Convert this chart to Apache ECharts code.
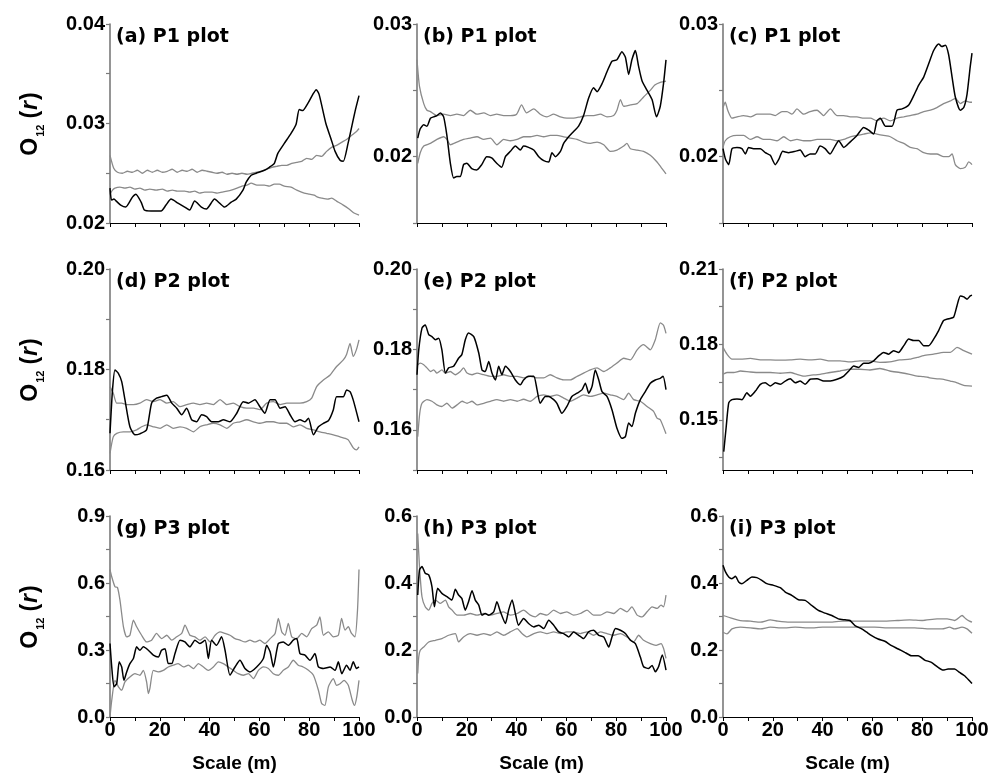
<!DOCTYPE html>
<html><head><meta charset="utf-8">
<script src="https://cdn.jsdelivr.net/npm/echarts@6/dist/echarts.min.js"></script>
<style>html,body{margin:0;padding:0;background:#fff}#c{width:992px;height:778px}</style>
</head><body><div id="c"></div>
<script>
// ---------- DATA ----------
const panelTitles = ['(a) P1 plot','(b) P1 plot','(c) P1 plot','(d) P2 plot','(e) P2 plot','(f) P2 plot','(g) P3 plot','(h) P3 plot','(i) P3 plot'];
const xTickValues = [0,10,20,30,40,50,60,70,80,90,100];
const xLabelValues = [0,20,40,60,80,100];
const xName = 'Scale (m)';
const yMin = [0.02,0.015,0.015,0.16,0.15,0.13,0,0,0];
const yMax = [0.04,0.03,0.03,0.20,0.20,0.21,0.9,0.6,0.6];
const yTickValues = [
  [0.02,0.025,0.03,0.035,0.04],[0.015,0.02,0.025,0.03],[0.015,0.02,0.025,0.03],
  [0.16,0.17,0.18,0.19,0.20],[0.15,0.16,0.17,0.18,0.19,0.20],[0.135,0.15,0.165,0.18,0.195,0.21],
  [0,0.15,0.3,0.45,0.6,0.75,0.9],[0,0.1,0.2,0.3,0.4,0.5,0.6],[0,0.1,0.2,0.3,0.4,0.5,0.6]];
const yLabelValues = [
  [0.02,0.03,0.04],[0.02,0.03],[0.02,0.03],
  [0.16,0.18,0.20],[0.16,0.18,0.20],[0.15,0.18,0.21],
  [0,0.3,0.6,0.9],[0,0.2,0.4,0.6],[0,0.2,0.4,0.6]];
const yDecimals = [2,2,2,2,2,2,1,1,1];

// (a)
const aObs = [[0,0.0235],[0.6,0.0223],[1.6,0.0224],[2.5,0.0222],[4.3,0.0218],[6.3,0.0216],[9,0.0226],[10.4,0.0229],[12.5,0.0221],[13.8,0.0213],[16.5,0.0212],[20.5,0.0212],[22.5,0.0218],[24.5,0.0224],[27.3,0.0220],[30,0.0216],[32,0.0213],[34,0.0222],[36.7,0.0216],[38.7,0.0214],[42,0.0224],[44,0.0220],[46,0.0216],[48.7,0.0221],[50.7,0.0224],[53.4,0.0233],[54.7,0.0241],[56.7,0.0248],[58.7,0.0250],[62,0.0253],[64,0.0256],[66,0.0260],[67.4,0.0270],[70,0.0280],[72.7,0.0290],[74.7,0.0299],[76,0.0314],[77.4,0.0313],[79.4,0.0320],[81.4,0.0329],[82.8,0.0334],[84,0.0329],[86.7,0.0300],[88.7,0.0285],[90.4,0.0272],[92.4,0.0263],[93.7,0.0262],[95.6,0.0280],[98.4,0.0312],[100,0.0328]];
const aHi = [[0,0.0268],[1.5,0.0255],[3,0.0251],[5,0.0250],[7,0.0252],[9,0.0251],[11,0.0253],[13,0.0250],[15,0.0253],[17,0.0251],[19,0.0253],[21,0.0251],[23,0.0252],[25,0.0254],[27,0.0251],[29,0.0253],[31,0.0252],[33,0.0254],[35,0.0251],[37,0.0253],[39,0.0252],[41,0.0251],[43,0.0250],[45,0.0251],[47,0.0249],[49,0.0250],[51,0.0249],[53,0.0250],[55,0.0249],[57,0.0250],[59,0.0251],[61,0.0252],[63,0.0254],[65,0.0256],[67,0.0257],[69,0.0258],[71,0.0258],[73,0.0260],[75,0.0261],[77,0.0262],[79,0.0265],[81,0.0264],[83,0.0268],[85,0.0267],[87,0.0272],[89,0.0276],[91,0.0278],[93,0.0281],[95,0.0284],[97,0.0288],[99,0.0292],[100,0.0295]];
const aLo = [[0,0.0229],[1,0.0233],[2,0.0235],[4,0.0236],[6,0.0235],[8,0.0236],[10,0.0234],[12,0.0235],[14,0.0233],[16,0.0234],[18.5,0.0233],[21,0.0234],[23,0.0232],[25,0.0233],[27,0.0232],[30,0.0232],[32,0.0231],[34,0.0232],[36,0.0230],[38,0.0231],[41,0.0231],[43,0.0230],[45,0.0231],[47,0.0232],[48.7,0.0233],[51,0.0235],[53,0.0237],[55,0.0238],[56.7,0.0240],[59,0.0238],[62,0.0238],[64,0.0237],[66,0.0239],[68,0.0239],[70,0.0237],[72.7,0.0236],[75,0.0233],[78,0.0230],[80,0.0229],[82,0.0228],[83.4,0.0226],[85,0.0225],[87.5,0.0224],[89,0.0225],[91,0.0222],[93.7,0.0218],[96,0.0214],[98,0.0210],[100,0.0208]];
// (b)
const bObs = [[0.3,0.0214],[1.3,0.0221],[2.7,0.0224],[4,0.0223],[5.4,0.0229],[6.7,0.0230],[8,0.0231],[9.4,0.0233],[10.7,0.0230],[12,0.0216],[13.4,0.0195],[14.7,0.0184],[16,0.0185],[17.4,0.0185],[18.7,0.0194],[20,0.0195],[22,0.0191],[24,0.0190],[26,0.0194],[28,0.0200],[30,0.0199],[32,0.0195],[34,0.0192],[35.5,0.0200],[37.5,0.0204],[39.5,0.0208],[41.5,0.0205],[42.8,0.0208],[44.8,0.0207],[46.9,0.0205],[48.9,0.0200],[50.9,0.0197],[52.9,0.0196],[54.2,0.0203],[55.6,0.0200],[57.6,0.0204],[58.9,0.0210],[60.9,0.0215],[62.9,0.0219],[64.9,0.0223],[66.9,0.0231],[68.9,0.0244],[70.9,0.0252],[72.3,0.0249],[74.3,0.0255],[76.3,0.0264],[78.3,0.0272],[80.3,0.0273],[82.3,0.0279],[83.7,0.0275],[85,0.0262],[86.3,0.0273],[87.7,0.0280],[89,0.0268],[90.4,0.0257],[92.4,0.0250],[94.4,0.0243],[96.2,0.0230],[97.7,0.0238],[99,0.0255],[100,0.0273]];
const bHi = [[0,0.0273],[1,0.0253],[2.7,0.0240],[4,0.0235],[5.4,0.0234],[8,0.0231],[10.7,0.0232],[13.4,0.0231],[16,0.0232],[18.7,0.0231],[21.4,0.0235],[24,0.0232],[26.8,0.0233],[29.5,0.0231],[32,0.0232],[34.8,0.0231],[37.5,0.0231],[40,0.0232],[42,0.0239],[44,0.0233],[46.9,0.0236],[49.5,0.0232],[52.2,0.0230],[54.9,0.0232],[57.6,0.0230],[60.2,0.0229],[62.9,0.0229],[65.6,0.0230],[68.3,0.0231],[71,0.0231],[73.6,0.0232],[76.3,0.0230],[79,0.0231],[80.3,0.0235],[81.7,0.0243],[83,0.0238],[85.7,0.0239],[88.4,0.0240],[91,0.0245],[93.7,0.0250],[95.5,0.0254],[97.7,0.0256],[100,0.0257]];
const bLo = [[0.3,0.0195],[1.3,0.0203],[2.7,0.0208],[5.4,0.0210],[8,0.0213],[10.7,0.0215],[12,0.0213],[13.4,0.0209],[16,0.0211],[18.7,0.0213],[21.4,0.0214],[24.1,0.0215],[26.8,0.0213],[29.5,0.0214],[32.1,0.0209],[34.8,0.0213],[37.5,0.0212],[40.2,0.0213],[42.8,0.0215],[45.5,0.0215],[48.2,0.0216],[50.9,0.0215],[53.5,0.0216],[56.2,0.0216],[58.9,0.0215],[61.6,0.0214],[64.3,0.0213],[66.9,0.0211],[69.6,0.0210],[72.3,0.0211],[75,0.0209],[77.6,0.0204],[80.3,0.0205],[83,0.0208],[84.3,0.0210],[85.7,0.0206],[88.4,0.0205],[91,0.0204],[93.7,0.0201],[96.4,0.0196],[98,0.0192],[100,0.0187]];
// (c)
const cObs = [[0,0.0206],[1,0.0198],[2.3,0.0194],[3.6,0.0206],[5.6,0.0207],[7.6,0.0206],[9,0.0202],[10.3,0.0207],[12.3,0.0206],[15,0.0206],[17,0.0203],[19,0.0201],[21,0.0194],[22.4,0.0198],[24,0.0204],[26.4,0.0203],[29,0.0204],[31,0.0205],[33,0.0200],[35,0.0202],[37,0.0202],[39,0.0208],[41,0.0206],[43,0.0202],[45,0.0208],[46.5,0.0212],[48.5,0.0207],[51,0.0211],[53.8,0.0216],[56.5,0.0222],[58.5,0.0220],[60.5,0.0217],[61.8,0.0227],[63.2,0.0229],[65.2,0.0223],[67.9,0.0223],[69.9,0.0235],[71.9,0.0236],[74.6,0.0239],[76.6,0.0246],[78.6,0.0254],[80.6,0.0260],[82.6,0.0270],[84.6,0.0280],[86.6,0.0285],[87.9,0.0283],[89.3,0.0284],[90.6,0.0277],[92,0.0260],[93.3,0.0245],[95.3,0.0235],[96.7,0.0237],[98,0.0247],[99.3,0.0268],[100,0.0278]];
const cHi = [[0,0.0237],[0.9,0.0241],[1.9,0.0235],[3.6,0.0229],[5.6,0.0230],[8.3,0.0231],[11,0.0230],[13.7,0.0232],[16.3,0.0232],[19,0.0232],[21,0.0231],[23.7,0.0234],[25.7,0.0234],[27.7,0.0232],[29.7,0.0236],[32.4,0.0232],[35,0.0234],[37.8,0.0235],[40.4,0.0231],[43.1,0.0236],[45.8,0.0231],[48.5,0.0231],[51.1,0.0230],[53.8,0.0230],[56.5,0.0229],[59.2,0.0229],[61.8,0.0227],[64.5,0.0229],[67.2,0.0227],[69.9,0.0229],[72.6,0.0230],[75.2,0.0231],[77.9,0.0232],[80.6,0.0234],[83.3,0.0235],[85.9,0.0237],[88.6,0.0240],[91.3,0.0242],[93.3,0.0244],[95.3,0.0240],[97.3,0.0242],[99.3,0.0241],[100,0.0241]];
const cLo = [[0,0.0207],[0.9,0.0212],[2.9,0.0215],[5.6,0.0216],[8.3,0.0216],[11,0.0213],[13.7,0.0215],[16.3,0.0213],[19,0.0213],[21.7,0.0212],[24.4,0.0215],[27.1,0.0212],[29.7,0.0213],[32.4,0.0212],[35,0.0212],[37.8,0.0213],[40.4,0.0213],[43.1,0.0213],[45.8,0.0212],[48.5,0.0213],[51.1,0.0215],[53.8,0.0216],[56.5,0.0217],[59.2,0.0218],[61.8,0.0217],[64.5,0.0216],[67.2,0.0215],[69.9,0.0212],[72.6,0.0210],[75.2,0.0207],[77.9,0.0206],[80.6,0.0203],[83.3,0.0202],[85.9,0.0202],[88.6,0.0200],[90.6,0.0200],[92,0.0202],[93.3,0.0194],[95.3,0.0191],[97.3,0.0192],[98.7,0.0196],[100,0.0194]];
// (d)
const dObs = [[0,0.1673],[1,0.1759],[2,0.1799],[3.3,0.1793],[4.7,0.1776],[6,0.1740],[8,0.1686],[10,0.1670],[12,0.1672],[14.7,0.1680],[16.7,0.1733],[18.7,0.1743],[20.7,0.1746],[22.8,0.1749],[24.8,0.1733],[26.8,0.1723],[28.8,0.1710],[30.8,0.1723],[32.8,0.1700],[34.8,0.1696],[36.8,0.1710],[38.8,0.1706],[40.8,0.1696],[43.5,0.1696],[45.5,0.1700],[48.2,0.1696],[50.9,0.1713],[53.5,0.1736],[55.6,0.1733],[58.2,0.1740],[60.2,0.1726],[62.2,0.1713],[64.3,0.1740],[66.3,0.1740],[68.3,0.1723],[70.3,0.1726],[72.3,0.1710],[74.3,0.1696],[76.3,0.1700],[78.3,0.1696],[79.7,0.1703],[81.7,0.1670],[83.7,0.1686],[85.7,0.1693],[87.7,0.1698],[89.7,0.1720],[91,0.1746],[93.7,0.1746],[95,0.1759],[96.4,0.1756],[97.7,0.1739],[100,0.1696]];
const dHi = [[0,0.1766],[1.3,0.1753],[2.7,0.1733],[4.7,0.1733],[6.7,0.1730],[9.4,0.1730],[12,0.1733],[14.7,0.1740],[17.4,0.1736],[20.1,0.1740],[22.8,0.1733],[25.4,0.1736],[28.1,0.1726],[30.8,0.1730],[33.5,0.1733],[36.1,0.1730],[38.8,0.1733],[41.5,0.1730],[44.2,0.1740],[46.9,0.1730],[49.5,0.1733],[52.2,0.1726],[54.9,0.1723],[57.6,0.1723],[60.2,0.1720],[62.9,0.1733],[65.6,0.1736],[68.3,0.1730],[71,0.1733],[73.6,0.1733],[76.3,0.1733],[79,0.1736],[81,0.1743],[83,0.1766],[85.7,0.1779],[88.4,0.1789],[91,0.1806],[93.7,0.1819],[95,0.1830],[96.4,0.1852],[97.7,0.1826],[99,0.1840],[100,0.1859]];
const dLo = [[0,0.1633],[1.3,0.1666],[2.7,0.1673],[5.4,0.1676],[8,0.1676],[10.7,0.1680],[12.7,0.1686],[14.7,0.1690],[17.4,0.1686],[20.1,0.1683],[22.8,0.1690],[25.4,0.1683],[28.1,0.1686],[30.8,0.1683],[33.5,0.1676],[36.1,0.1686],[38.8,0.1690],[41.5,0.1693],[44.2,0.1690],[46.9,0.1683],[49.5,0.1693],[52.2,0.1696],[54.9,0.1700],[57.6,0.1696],[60.2,0.1693],[62.9,0.1696],[65.6,0.1696],[68.3,0.1693],[71,0.1693],[73.6,0.1686],[76.3,0.1690],[79,0.1683],[81.7,0.1680],[84.3,0.1676],[87,0.1673],[89.7,0.1670],[92.4,0.1666],[94.5,0.1663],[95.7,0.1660],[97.7,0.1644],[99,0.1640],[100,0.1646]];
// (e)
const eObs = [[0,0.1737],[0.7,0.1799],[2,0.1853],[3.3,0.1861],[4.7,0.1837],[6,0.1832],[7.4,0.1824],[8.7,0.1828],[10,0.1799],[11.4,0.1741],[12.7,0.1754],[14.7,0.1758],[16.7,0.1778],[18,0.1787],[19.4,0.1824],[20.7,0.1841],[22.8,0.1832],[24.8,0.1791],[26.1,0.1749],[27.4,0.1745],[28.8,0.1770],[30.1,0.1741],[31.5,0.1724],[32.8,0.1758],[34.1,0.1737],[35.5,0.1758],[37.5,0.1745],[39.5,0.1724],[41.5,0.1712],[42.8,0.1724],[44.8,0.1733],[46.9,0.1733],[48.2,0.1700],[49.5,0.1666],[51.5,0.1683],[52.9,0.1683],[54.9,0.1675],[56.2,0.1666],[58.2,0.1641],[60.2,0.1658],[62.2,0.1683],[64.3,0.1691],[66.3,0.1700],[67.6,0.1716],[69,0.1691],[70.3,0.1708],[71.6,0.1749],[73,0.1724],[74.3,0.1695],[76.3,0.1683],[78.3,0.1650],[80.3,0.1604],[82.3,0.1579],[83.7,0.1583],[85,0.1617],[86.3,0.1608],[87.7,0.1641],[89.7,0.1675],[91.7,0.1695],[93.7,0.1716],[95.7,0.1724],[97.7,0.1728],[98.8,0.1733],[100,0.1700]];
const eHi = [[0.3,0.1762],[1.3,0.1766],[2.7,0.1762],[4,0.1754],[5.4,0.1745],[6.7,0.1749],[8,0.1741],[10,0.1749],[11.4,0.1741],[13.4,0.1745],[15.4,0.1737],[17.4,0.1745],[18.7,0.1754],[20.1,0.1741],[22.1,0.1737],[24.1,0.1741],[26.8,0.1737],[29.5,0.1733],[32.1,0.1733],[34.8,0.1737],[37.5,0.1733],[40.2,0.1733],[42.8,0.1729],[45.5,0.1733],[48.2,0.1729],[50.9,0.1729],[53.5,0.1737],[56.2,0.1729],[58.9,0.1724],[61.6,0.1724],[64.3,0.1733],[66.9,0.1741],[69.6,0.1749],[72.3,0.1754],[75,0.1745],[77.6,0.1754],[80.3,0.1766],[83,0.1778],[85.7,0.1774],[88.4,0.1799],[91,0.1812],[93.7,0.1799],[95.7,0.1824],[97.7,0.1866],[99,0.1860],[100,0.1840]];
const eLo = [[0.3,0.1583],[1.1,0.1641],[2,0.1666],[4,0.1675],[6,0.1671],[8,0.1662],[10,0.1658],[12,0.1666],[14.1,0.1654],[16.1,0.1662],[18.1,0.1671],[20.1,0.1666],[22.1,0.1671],[24.1,0.1662],[26.8,0.1666],[29.5,0.1671],[32.1,0.1675],[34.8,0.1671],[37.5,0.1675],[40.2,0.1671],[42.8,0.1676],[45.5,0.1671],[48.2,0.1683],[50.9,0.1687],[53.5,0.1683],[56.2,0.1687],[58.9,0.1679],[61.6,0.1671],[64.3,0.1679],[66.9,0.1687],[69.6,0.1683],[72.3,0.1687],[75,0.1691],[77.6,0.1687],[80.3,0.1683],[83,0.1675],[85,0.1691],[87,0.1675],[89.7,0.1671],[92.4,0.1658],[95,0.1646],[96.4,0.1629],[97.7,0.1625],[100,0.1590]];
// (f)
const fObs = [[0.3,0.1373],[1.3,0.1473],[2.3,0.1567],[3.6,0.1580],[5.6,0.1583],[7.6,0.1580],[9.6,0.1607],[11,0.1594],[13,0.1614],[15,0.1641],[17,0.1647],[19,0.1634],[21,0.1647],[23,0.1641],[25,0.1654],[27,0.1663],[29,0.1647],[31,0.1654],[33,0.1641],[35,0.1661],[37.8,0.1663],[40.4,0.1654],[43.1,0.1654],[45.8,0.1661],[48.5,0.1674],[50.5,0.1694],[52.5,0.1714],[54.5,0.1708],[56.5,0.1725],[58.5,0.1725],[60.5,0.1734],[62.5,0.1754],[64.5,0.1768],[66.5,0.1761],[68.5,0.1775],[70.5,0.1768],[72.6,0.1795],[74.6,0.1821],[76.6,0.1815],[78.6,0.1815],[80.6,0.1795],[82.6,0.1795],[84.6,0.1821],[86.6,0.1855],[88.6,0.1895],[90.6,0.1902],[92.6,0.1908],[94,0.1955],[95.3,0.1993],[96.7,0.1989],[98,0.1980],[99.3,0.1993],[100,0.1996]];
const fHi = [[0,0.1788],[1.6,0.1761],[3.6,0.1741],[7,0.1741],[11,0.1744],[15,0.1738],[19,0.1738],[23,0.1737],[27,0.1738],[31,0.1741],[35,0.1738],[39,0.1741],[43,0.1734],[47,0.1734],[51,0.1730],[55,0.1734],[59,0.1734],[63,0.1728],[67,0.1730],[71,0.1738],[75,0.1741],[78,0.1748],[80.6,0.1755],[84.6,0.1761],[88.6,0.1768],[91.3,0.1768],[94,0.1788],[96.7,0.1775],[100,0.1761]];
const fLo = [[0,0.1681],[1.6,0.1688],[4.3,0.1688],[7,0.1694],[11,0.1690],[15,0.1688],[19,0.1688],[23,0.1685],[27,0.1688],[29.7,0.1681],[32.4,0.1674],[35,0.1677],[39,0.1681],[43,0.1688],[47,0.1694],[51,0.1701],[55,0.1701],[59,0.1698],[63,0.1704],[64.5,0.1701],[67,0.1694],[71,0.1688],[75,0.1681],[78,0.1674],[80.6,0.1672],[83,0.1667],[86,0.1663],[88.6,0.1661],[91.3,0.1654],[94,0.1647],[96.7,0.1637],[100,0.1634]];
// (g)
const gObs = [[0,0.329],[0.7,0.224],[1.6,0.135],[2.7,0.150],[3.7,0.247],[4.7,0.224],[5.6,0.164],[6.7,0.202],[8,0.239],[9.4,0.262],[10.7,0.314],[12,0.299],[13.4,0.314],[15.4,0.299],[17.4,0.277],[19.4,0.269],[20.7,0.299],[22.1,0.306],[23.4,0.239],[24.8,0.239],[26.1,0.284],[28.1,0.344],[30.1,0.336],[32.1,0.314],[34.1,0.344],[36.1,0.329],[38.2,0.344],[39.5,0.262],[40.8,0.344],[42.8,0.321],[44.8,0.359],[46.2,0.299],[48.2,0.187],[50.2,0.224],[52.2,0.254],[54.2,0.217],[56.2,0.202],[58.9,0.224],[61.6,0.262],[62.9,0.321],[64.3,0.292],[65.6,0.224],[67.6,0.329],[69.6,0.336],[71.6,0.321],[73.6,0.344],[75,0.351],[76.3,0.284],[78.3,0.277],[80.3,0.254],[82.3,0.284],[83.7,0.224],[85.7,0.217],[88.4,0.224],[90.4,0.209],[91.7,0.247],[93.1,0.194],[95,0.232],[96.4,0.209],[97.7,0.247],[99,0.217],[100,0.224]];
const gHi = [[0,0.66],[0.7,0.628],[2,0.583],[3,0.58],[4,0.523],[5.4,0.404],[6.7,0.359],[8,0.366],[9.4,0.434],[10.7,0.404],[12.7,0.366],[14.7,0.336],[16.7,0.344],[18.7,0.374],[20.7,0.351],[22.8,0.366],[24.8,0.344],[26.8,0.359],[28.8,0.374],[30.1,0.411],[32.1,0.366],[34.1,0.359],[36.1,0.344],[38.2,0.359],[40.2,0.336],[42.2,0.366],[44.2,0.381],[46.2,0.374],[48.2,0.366],[50.2,0.351],[52.2,0.344],[54.2,0.336],[56.2,0.344],[58.2,0.336],[60.2,0.344],[62.2,0.329],[64.3,0.351],[66.3,0.374],[67.6,0.441],[69,0.381],[70.3,0.366],[71.6,0.419],[73,0.359],[75,0.351],[77,0.374],[79,0.359],[81,0.396],[83,0.411],[84.3,0.448],[85.7,0.366],[87.7,0.381],[89.7,0.359],[91.7,0.366],[93,0.441],[94.4,0.389],[95.7,0.404],[97,0.374],[98.4,0.359],[99.4,0.478],[100,0.66]];
const gLo = [[0,0.0],[0.7,0.075],[2,0.164],[3.4,0.135],[4.7,0.120],[6,0.157],[8,0.179],[10,0.194],[12,0.187],[13.4,0.209],[14.7,0.157],[15.4,0.105],[16,0.127],[17.4,0.209],[19.4,0.202],[21.4,0.209],[23.4,0.224],[25.4,0.232],[27.4,0.239],[29.5,0.224],[31.5,0.232],[33.5,0.217],[35.5,0.239],[37.5,0.224],[39.5,0.209],[41.5,0.224],[43.5,0.247],[45.5,0.239],[47.5,0.224],[49.5,0.209],[51.5,0.194],[53.5,0.187],[55.6,0.194],[57.6,0.172],[59.6,0.209],[61.6,0.224],[63.6,0.217],[65.6,0.194],[67.6,0.187],[69.6,0.209],[71.6,0.224],[73.6,0.254],[75.6,0.232],[77.6,0.224],[79.7,0.209],[81.7,0.187],[83.7,0.120],[85,0.060],[86.3,0.052],[87.7,0.135],[89.7,0.172],[91,0.142],[92.4,0.149],[94,0.164],[95.7,0.142],[97.3,0.075],[98.2,0.052],[99.1,0.09],[100,0.164]];
// (h)
const hObs = [[0.3,0.364],[1,0.439],[2,0.449],[3.3,0.429],[4.7,0.424],[6,0.389],[7,0.329],[8.3,0.384],[10,0.369],[12,0.359],[14,0.349],[15.4,0.381],[16.7,0.364],[18,0.354],[19.4,0.319],[20.7,0.344],[22.1,0.377],[23.4,0.349],[24.8,0.334],[26.1,0.304],[27.4,0.309],[28.8,0.304],[30.8,0.314],[32.1,0.344],[33.5,0.314],[35.5,0.279],[36.8,0.319],[38.2,0.349],[39.5,0.309],[40.8,0.274],[42.8,0.294],[44.8,0.279],[46.9,0.269],[48.9,0.274],[50.9,0.264],[52.9,0.289],[54.9,0.274],[56.9,0.254],[58.9,0.249],[60.9,0.239],[62.9,0.254],[64.9,0.244],[66.9,0.234],[68.9,0.254],[70.9,0.259],[73,0.244],[75,0.239],[77,0.209],[78.3,0.239],[79.7,0.264],[81.7,0.259],[83.7,0.249],[85.7,0.229],[87.7,0.219],[89.7,0.179],[91,0.150],[93,0.145],[94.4,0.154],[95.7,0.135],[97,0.150],[98.5,0.185],[100,0.140]];
const hHi = [[0.3,0.548],[1,0.449],[2,0.359],[3.3,0.329],[4.7,0.319],[6,0.339],[7.4,0.349],[9.4,0.339],[11.4,0.349],[12.7,0.329],[14.1,0.319],[16.1,0.304],[18.7,0.304],[21.4,0.309],[24.1,0.304],[26.8,0.309],[29.5,0.304],[32.1,0.309],[34.8,0.314],[37.5,0.304],[40.2,0.309],[42.8,0.319],[45.5,0.304],[47.5,0.299],[49.5,0.309],[52.2,0.304],[54.9,0.319],[57.6,0.309],[60.2,0.314],[62.9,0.304],[65.6,0.309],[68.3,0.319],[70.9,0.304],[73.6,0.304],[76.3,0.314],[79,0.309],[81.7,0.324],[84.3,0.314],[86.3,0.329],[88.4,0.304],[90.4,0.299],[92.4,0.314],[94.4,0.329],[96.4,0.324],[98,0.334],[99,0.329],[100,0.364]];
const hLo = [[0.3,0.130],[0.7,0.179],[1.3,0.199],[2.7,0.209],[4.7,0.224],[7.4,0.229],[10,0.234],[12.7,0.244],[15.4,0.249],[16.7,0.224],[18.7,0.239],[21.4,0.249],[24.1,0.244],[26.8,0.249],[29.5,0.244],[32.1,0.254],[34.8,0.244],[37.5,0.254],[40.2,0.264],[42.2,0.249],[44.2,0.239],[46.9,0.249],[49.5,0.254],[52.2,0.249],[54.9,0.254],[57.6,0.249],[60.2,0.254],[62.9,0.254],[65.6,0.249],[68.3,0.254],[70.9,0.244],[73.6,0.254],[76.3,0.249],[79,0.244],[81.7,0.249],[84.3,0.239],[87,0.224],[89,0.244],[91,0.229],[93.7,0.219],[96,0.214],[98,0.219],[99,0.205],[100,0.175]];
// (i)
const iObs = [[0,0.453],[1,0.433],[2.3,0.418],[3.6,0.413],[5,0.420],[6.3,0.403],[7.6,0.398],[9.6,0.408],[11.6,0.418],[13.6,0.416],[15.6,0.408],[17.6,0.398],[20.3,0.393],[23,0.386],[25,0.373],[27.6,0.363],[30.3,0.350],[33,0.348],[35.6,0.333],[38.3,0.318],[41,0.310],[43.7,0.303],[46.3,0.293],[49,0.290],[51,0.288],[53,0.273],[55.7,0.263],[57.7,0.253],[59.7,0.243],[62.3,0.233],[65,0.226],[67.7,0.213],[70.4,0.203],[73,0.193],[75.7,0.183],[78.4,0.183],[81,0.170],[83.7,0.163],[86.4,0.148],[88.4,0.140],[90.4,0.143],[93,0.143],[95,0.133],[97,0.123],[99,0.108],[100,0.100]];
const iHi = [[0,0.303],[3,0.296],[7,0.288],[11,0.286],[15,0.283],[19,0.290],[22,0.286],[27,0.283],[32,0.283],[37,0.283],[43,0.283],[48,0.286],[53,0.286],[59,0.286],[64,0.286],[70,0.288],[75,0.290],[80,0.288],[86,0.293],[90,0.293],[93,0.288],[96,0.303],[97.5,0.293],[99,0.286],[100,0.283]];
const iLo = [[0,0.253],[1.6,0.248],[3.6,0.263],[7,0.268],[11,0.266],[15,0.263],[19,0.268],[24,0.266],[29,0.268],[35,0.266],[40,0.268],[45,0.268],[51,0.268],[56,0.268],[61,0.268],[67,0.266],[72,0.266],[77,0.266],[83,0.263],[88,0.263],[91,0.268],[93,0.263],[96,0.268],[98,0.263],[100,0.250]];

const obsSeries = [aObs,bObs,cObs,dObs,eObs,fObs,gObs,hObs,iObs];
const hiSeries = [aHi,bHi,cHi,dHi,eHi,fHi,gHi,hHi,iHi];
const loSeries = [aLo,bLo,cLo,dLo,eLo,fLo,gLo,hLo,iLo];

// ---------- LAYOUT / STYLE ----------
const colLeft = [110, 417, 723];
const rowTop = [24, 269, 516];
const plotW = 249;
const plotH = [199, 201, 201];
const FONT = '"Liberation Sans", Arial, sans-serif';

const chart = echarts.init(document.getElementById('c'), null, {renderer: 'canvas'});
const grid = [], xAxis = [], yAxis = [], series = [], title = [];

for (let k = 0; k < 9; k++) {
  const r = Math.floor(k / 3), c = k % 3;
  grid.push({left: colLeft[c], top: rowTop[r], width: plotW, height: plotH[r], containLabel: false});
  const bottomRow = r === 2;
  xAxis.push({
    type: 'value', gridIndex: k, min: 0, max: 100,
    axisLine: {show: true, lineStyle: {color: '#000', width: 1.2}},
    axisTick: {show: true, length: 4, lineStyle: {color: '#000', width: 1}, customValues: xTickValues},
    axisLabel: {show: bottomRow, customValues: xLabelValues, margin: 3,
      fontFamily: FONT, fontWeight: 'bold', fontSize: 20, color: '#000'},
    splitLine: {show: false},
    name: bottomRow ? xName : '', nameLocation: 'middle', nameGap: 37,
    nameTextStyle: {fontFamily: FONT, fontWeight: 'bold', fontSize: 19, color: '#000'}
  });
  const dec = yDecimals[k];
  yAxis.push({
    type: 'value', gridIndex: k, min: yMin[k], max: yMax[k],
    axisLine: {show: true, lineStyle: {color: '#7a7a7a', width: 1.6}},
    axisTick: {show: true, length: 4, lineStyle: {color: '#7a7a7a', width: 1.2}, customValues: yTickValues[k]},
    axisLabel: {show: true, customValues: yLabelValues[k], margin: 5,
      formatter: v => Number(v).toFixed(dec),
      fontFamily: FONT, fontWeight: 'bold', fontSize: 20, color: '#000'},
    splitLine: {show: false},
    name: c === 0 ? '{o|O}{s|12}{p|(}{r|r}{p|)}' : '',
    nameLocation: 'middle', nameRotate: 90, nameGap: 64,
    nameTextStyle: {
      rich: {
        o: {fontFamily: FONT, fontWeight: 'bold', fontSize: 23, color: '#000', lineHeight: 30},
        s: {fontFamily: FONT, fontWeight: 'bold', fontSize: 11, color: '#000', lineHeight: 9, verticalAlign: 'bottom', padding: [0, 5, 0, 1]},
        p: {fontFamily: FONT, fontWeight: 'bold', fontSize: 23, color: '#000', lineHeight: 30, padding: [0, 1, 0, 1]},
        r: {fontFamily: FONT, fontWeight: 'bold', fontStyle: 'italic', fontSize: 23, color: '#000', lineHeight: 30}
      }
    }
  });
  title.push({
    text: panelTitles[k], left: colLeft[c] + 6, top: rowTop[r] + 4, padding: 0,
    textStyle: {fontFamily: '"DejaVu Sans", sans-serif', fontWeight: 'bold', fontSize: 19, color: '#000'}
  });
  const lineBase = {type: 'line', xAxisIndex: k, yAxisIndex: k, showSymbol: false, symbol: 'none', animation: false, silent: true, smooth: 0.2};
  series.push(Object.assign({}, lineBase, {data: hiSeries[k], lineStyle: {color: '#8a8a8a', width: 1.3}, z: 2}));
  series.push(Object.assign({}, lineBase, {data: loSeries[k], lineStyle: {color: '#8a8a8a', width: 1.3}, z: 2}));
  series.push(Object.assign({}, lineBase, {data: obsSeries[k], lineStyle: {color: '#000', width: 1.5}, z: 3}));
}

chart.setOption({animation: false, backgroundColor: '#fff', title, grid, xAxis, yAxis, series});
</script></body></html>
